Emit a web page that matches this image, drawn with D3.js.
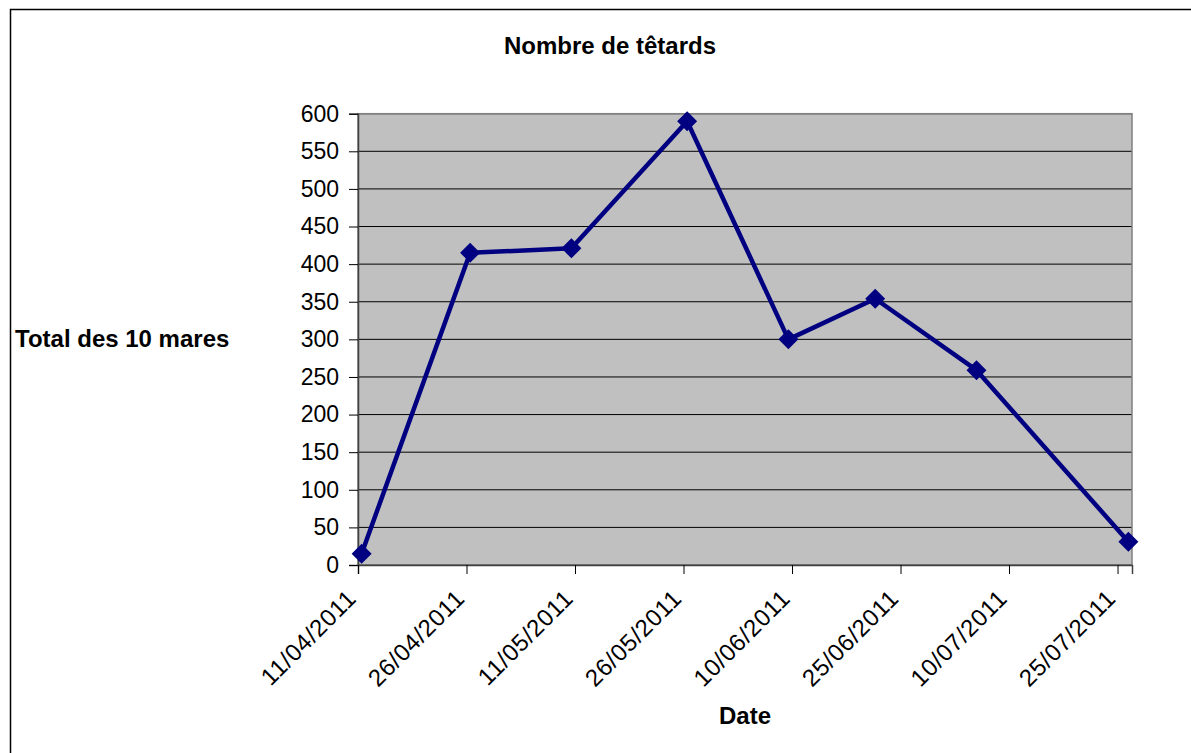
<!DOCTYPE html>
<html>
<head>
<meta charset="utf-8">
<script src="https://cdn.jsdelivr.net/npm/d3@7"></script>
<style>
  body { margin: 0; background: #fff; }
  svg { display: block; font-family: "Liberation Sans", Arial, sans-serif; }
</style>
</head>
<body>
<div id="chart"></div>
<script>
// relevés (dates de comptage) et nombre de têtards, total des 10 mares
var dates = ["2011-04-11", "2011-04-26", "2011-05-10", "2011-05-26",
             "2011-06-09", "2011-06-21", "2011-07-05", "2011-07-26"];
var totals = [15, 415, 421, 590, 300, 354, 259, 31];

var tickDates = ["2011-04-11", "2011-04-26", "2011-05-11", "2011-05-26",
                 "2011-06-10", "2011-06-25", "2011-07-10", "2011-07-25"];
var yTicks = [0, 50, 100, 150, 200, 250, 300, 350, 400, 450, 500, 550, 600];

var parse = d3.utcParse("%Y-%m-%d");
var fmt = d3.utcFormat("%d/%m/%Y");
var halfDay = 12 * 3600 * 1000;

var W = 1191, H = 753;
var plot = {left: 358, right: 1132, top: 113.7, bottom: 565};

var svg = d3.select("#chart").append("svg")
    .attr("width", W)
    .attr("height", H);

// cadre du graphique
svg.append("rect")
    .attr("x", 10.5).attr("y", 9.5)
    .attr("width", 1200).attr("height", 800)
    .attr("fill", "#fff")
    .attr("stroke", "#000")
    .attr("stroke-width", 1.5);

var x = d3.scaleUtc()
    .domain([parse("2011-04-11"), parse("2011-07-27")])
    .range([plot.left, plot.right]);

var y = d3.scaleLinear()
    .domain([0, 600])
    .range([plot.bottom, plot.top]);

// zone de tracé
svg.append("rect")
    .attr("x", plot.left).attr("y", plot.top)
    .attr("width", plot.right - plot.left)
    .attr("height", plot.bottom - plot.top)
    .attr("fill", "#c0c0c0");

// quadrillage
svg.append("g")
    .selectAll("line")
    .data(yTicks)
    .enter().append("line")
    .attr("x1", plot.left).attr("x2", plot.right)
    .attr("y1", function(d) { return y(d); })
    .attr("y2", function(d) { return y(d); })
    .attr("stroke", "#000")
    .attr("stroke-width", 1);

svg.append("rect")
    .attr("x", plot.left).attr("y", plot.top)
    .attr("width", plot.right - plot.left)
    .attr("height", plot.bottom - plot.top)
    .attr("fill", "none")
    .attr("stroke", "#808080")
    .attr("stroke-width", 1.5);

// axe Y
var yAxis = d3.axisLeft(y)
    .tickValues(yTicks)
    .tickSize(9)
    .tickPadding(10);

var gy = svg.append("g")
    .attr("transform", "translate(" + plot.left + ",0)")
    .call(yAxis);
gy.select(".domain").attr("stroke", "#404040").attr("stroke-width", 1.5);
gy.selectAll(".tick line").attr("stroke", "#000");
gy.selectAll(".tick text")
    .attr("font-size", 23)
    .attr("font-family", "Liberation Sans, Arial, sans-serif")
    .attr("fill", "#000");

// axe X
var xAxis = d3.axisBottom(x)
    .tickValues(tickDates.map(parse))
    .tickFormat(fmt)
    .tickSize(9)
    .tickPadding(6);

var gx = svg.append("g")
    .attr("transform", "translate(0," + plot.bottom + ")")
    .call(xAxis);
gx.select(".domain").attr("stroke", "#404040").attr("stroke-width", 1.5);
gx.selectAll(".tick line").attr("stroke", "#000");
gx.selectAll(".tick text")
    .attr("font-size", 24)
    .attr("letter-spacing", 0.6)
    .attr("font-family", "Liberation Sans, Arial, sans-serif")
    .attr("fill", "#000")
    .attr("text-anchor", "end")
    .attr("dy", null)
    .attr("y", 0)
    .attr("transform", "translate(-1,35) rotate(-45)");

// série
var pts = dates.map(function(d, i) {
    return {date: new Date(parse(d).getTime() + halfDay), value: totals[i]};
});

var line = d3.line()
    .x(function(d) { return x(d.date); })
    .y(function(d) { return y(d.value); });

svg.append("path")
    .datum(pts)
    .attr("d", line)
    .attr("fill", "none")
    .attr("stroke", "#000080")
    .attr("stroke-width", 4.5)
    .attr("stroke-linejoin", "round");

var marker = d3.symbol().type(d3.symbolSquare).size(200);

svg.append("g")
    .selectAll("path")
    .data(pts)
    .enter().append("path")
    .attr("d", marker)
    .attr("transform", function(d) {
        return "translate(" + x(d.date) + "," + y(d.value) + ") rotate(45)";
    })
    .attr("fill", "#000080");

// titres
svg.append("text")
    .attr("x", 610).attr("y", 54)
    .attr("text-anchor", "middle")
    .attr("font-size", 24)
    .attr("font-weight", "bold")
    .text("Nombre de têtards");

svg.append("text")
    .attr("x", 15).attr("y", 347)
    .attr("font-size", 24)
    .attr("font-weight", "bold")
    .text("Total des 10 mares");

svg.append("text")
    .attr("x", 745).attr("y", 724)
    .attr("text-anchor", "middle")
    .attr("font-size", 24)
    .attr("font-weight", "bold")
    .text("Date");
</script>
</body>
</html>
